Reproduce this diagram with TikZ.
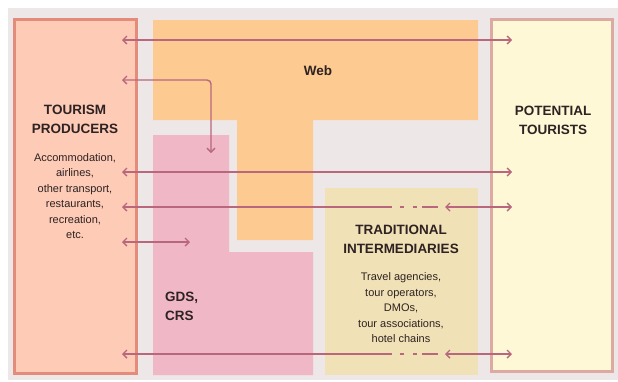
\documentclass[tikz,border=0pt]{standalone}
\usepackage{fontspec}
\setmainfont{Liberation Sans}
\usetikzlibrary{arrows.meta}
\definecolor{panel}{HTML}{EDE7E7}
\definecolor{prodfill}{HTML}{FDCBB6}
\definecolor{prodline}{HTML}{E38C7B}
\definecolor{tourfill}{HTML}{FFF8D6}
\definecolor{tourline}{HTML}{DCAAA2}
\definecolor{webc}{HTML}{FDCB91}
\definecolor{gdsc}{HTML}{F0B7C7}
\definecolor{tradc}{HTML}{F0E2B6}
\definecolor{linkc}{HTML}{B8677D}
\definecolor{ink}{HTML}{2E2222}
\tikzset{
  >={Straight Barb[length=4pt,width=8pt]},
  link/.style={draw=linkc,line width=1.4pt},
  heading/.style={font=\fontsize{13.5}{19}\selectfont\bfseries,align=center,text=ink,inner sep=0pt},
  note/.style={font=\fontsize{11}{15.5}\selectfont,align=center,text=ink,inner sep=0pt}
}
\begin{document}
\begin{tikzpicture}[x=1pt,y=-1pt]
      \fill[white] (0,0) rectangle (618,381);
      \useasboundingbox (0,0) rectangle (618,381);
      \fill[panel] (8,8) rectangle (618,380);
      % the regions
      \filldraw[fill=prodfill,draw=prodline,line width=3pt] (14.5,19.5) rectangle (136.5,373.5);
      \filldraw[fill=tourfill,draw=tourline,line width=3pt] (491.5,19.5) rectangle (612.5,371.5);
      \fill[webc] (153,20) rectangle (478,120) (237,119) rectangle (313,240);
      \fill[gdsc] (153,135) -- (229,135) -- (229,252) -- (313,252) -- (313,375) -- (153,375) -- cycle;
      \fill[tradc] (325,188) rectangle (478,375);
      % the labels
      \node[heading] (web) at (318,71) {Web};
      \node[heading] (prod) at (75,119) {TOURISM\\PRODUCERS};
      \node[note] (prodtext) at (75,196) {Accommodation,\\airlines,\\other transport,\\restaurants,\\recreation,\\etc.};
      \node[heading] (tour) at (553,120) {POTENTIAL\\TOURISTS};
      \node[heading,align=left,anchor=west] (gds) at (165,306) {GDS,\\CRS};
      \node[heading] (trad) at (401,239) {TRADITIONAL\\INTERMEDIARIES};
      \node[note] (tradtext) at (401,308) {Travel agencies,\\tour operators,\\DMOs,\\tour associations,\\hotel chains};
      % the arrow ends
      \coordinate (p1) at (122,40);  \coordinate (t1) at (512,40);
      \coordinate (p2) at (122,80);  \coordinate (g1) at (211,153);
      \coordinate (p3) at (122,172); \coordinate (t3) at (512,172);
      \coordinate (p4) at (122,207); \coordinate (d4) at (438,207);
      \coordinate (i4) at (445,207); \coordinate (t4) at (512,207);
      \coordinate (p5) at (122,242); \coordinate (g5) at (190,242);
      \coordinate (p6) at (122,354); \coordinate (d6) at (438,354);
      \coordinate (i6) at (445,354); \coordinate (t6) at (512,354);
      % the arrows
      \draw[link,<->] (p1) -- (t1);
      \draw[link,<->,rounded corners=4pt] (p2) -| (g1);
      \draw[link,<->] (p3) -- (t3);
      \draw[link,<-,dash pattern=on 268pt off 8pt on 4pt off 9pt on 4pt off 5pt on 30pt] (p4) -- (d4);
      \draw[link,<->] (i4) -- (t4);
      \draw[link,<->] (p5) -- (g5);
      \draw[link,<-,dash pattern=on 268pt off 8pt on 4pt off 9pt on 4pt off 5pt on 30pt] (p6) -- (d6);
      \draw[link,<->] (i6) -- (t6);
\end{tikzpicture}
\end{document}
